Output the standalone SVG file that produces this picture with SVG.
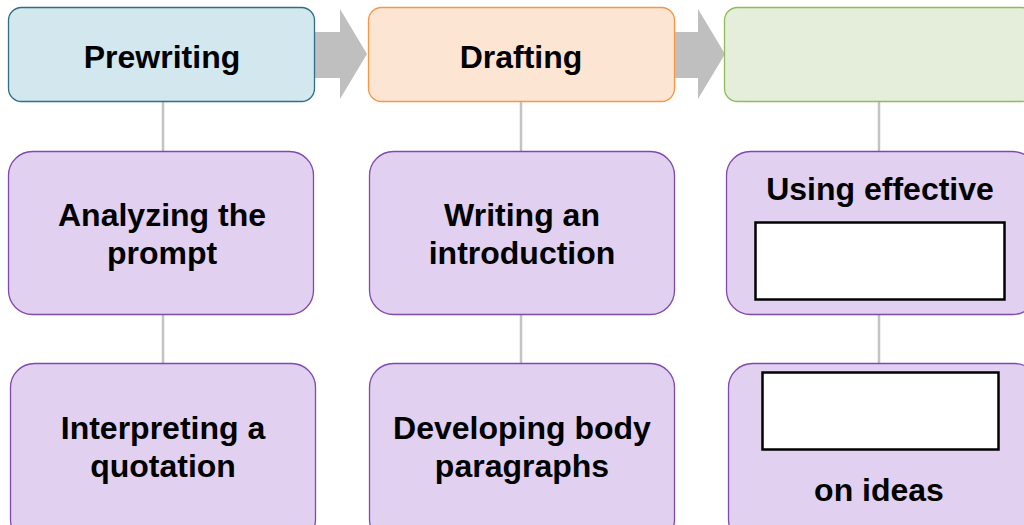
<svg xmlns="http://www.w3.org/2000/svg" width="1024" height="525" viewBox="0 0 1024 525">
  <style>
    .label { font-family: "Liberation Sans", Arial, sans-serif; font-weight: bold; font-size: 32px; fill: #000; text-anchor: middle; }
    .step { fill: #E1D0F0; stroke: #8048B0; stroke-width: 1.3; }
    .blank { fill: #FFFFFF; stroke: #000; stroke-width: 2.5; }
    .link { stroke: #C3C3C3; stroke-width: 2.5; fill: none; }
    .flow { fill: #C0BFC0; }
  </style>

  <rect width="1024" height="525" fill="#FFFFFF"/>

  <!-- connectors -->
  <g id="connectors">
    <polygon class="flow" points="314,32 340,32 340,9 367,54 340,99 340,78 314,78"/>
    <polygon class="flow" points="674,32 698,32 698,9 725,54 698,99 698,78 674,78"/>
    <line class="link" x1="163" y1="101" x2="163" y2="151"/>
    <line class="link" x1="163" y1="314" x2="163" y2="364"/>
    <line class="link" x1="521" y1="101" x2="521" y2="151"/>
    <line class="link" x1="521" y1="314" x2="521" y2="364"/>
    <line class="link" x1="879" y1="101" x2="879" y2="151"/>
    <line class="link" x1="879" y1="314" x2="879" y2="364"/>
  </g>

  <!-- stage headers -->
  <g id="prewriting">
    <rect x="8.5" y="7.5" width="306" height="94" rx="13" fill="#D2E7EE" stroke="#2E6E86" stroke-width="1.3"/>
    <text class="label" x="162" y="68">Prewriting</text>
  </g>
  <g id="drafting">
    <rect x="368.5" y="7.5" width="306" height="94" rx="13" fill="#FCE6D3" stroke="#F79646" stroke-width="1.3"/>
    <text class="label" x="521" y="68">Drafting</text>
  </g>
  <g id="revising">
    <rect x="724.5" y="7.5" width="310" height="94" rx="13" fill="#E4EEDA" stroke="#8CBD5A" stroke-width="1.3"/>
  </g>

  <!-- prewriting steps -->
  <g id="analyzing">
    <rect class="step" x="8.5" y="151.5" width="305" height="163" rx="24"/>
    <text class="label" x="162" y="226">Analyzing the</text>
    <text class="label" x="162" y="264">prompt</text>
  </g>
  <g id="interpreting">
    <rect class="step" x="10.5" y="363.5" width="305" height="180" rx="24"/>
    <text class="label" x="163" y="439">Interpreting a</text>
    <text class="label" x="163" y="477">quotation</text>
  </g>

  <!-- drafting steps -->
  <g id="introduction">
    <rect class="step" x="369.5" y="151.5" width="305" height="163" rx="24"/>
    <text class="label" x="522" y="226">Writing an</text>
    <text class="label" x="522" y="264">introduction</text>
  </g>
  <g id="body-paragraphs">
    <rect class="step" x="369.5" y="363.5" width="305" height="180" rx="24"/>
    <text class="label" x="522" y="439">Developing body</text>
    <text class="label" x="522" y="477">paragraphs</text>
  </g>

  <!-- revising steps -->
  <g id="effective">
    <rect class="step" x="726.5" y="151.5" width="310" height="163" rx="24"/>
    <text class="label" x="880" y="200">Using effective</text>
    <rect class="blank" x="755.5" y="222.5" width="249" height="77"/>
  </g>
  <g id="ideas">
    <rect class="step" x="728.5" y="363.5" width="310" height="180" rx="24"/>
    <rect class="blank" x="762.5" y="372.5" width="236" height="77"/>
    <text class="label" x="879" y="501">on ideas</text>
  </g>
</svg>
